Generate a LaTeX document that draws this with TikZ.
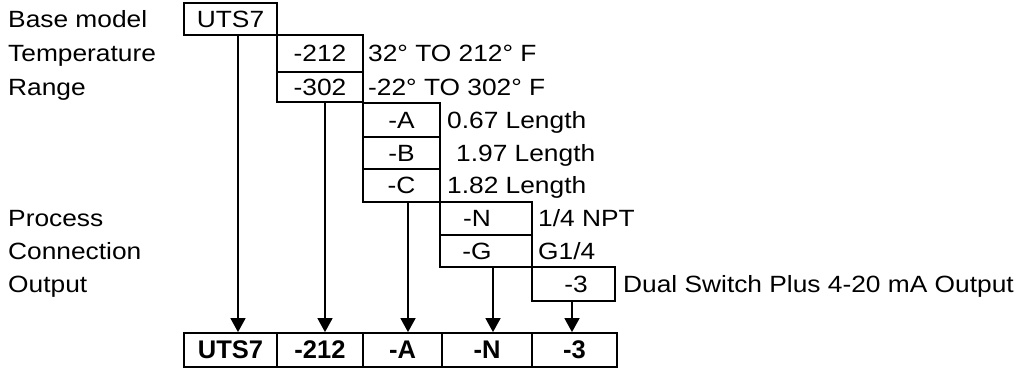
\documentclass[tikz,border=0pt]{standalone}
\usepackage{fontspec}
\setmainfont{Liberation Sans}[FakeStretch=1.12]
\newfontfamily\cellfont{Liberation Sans}
\usetikzlibrary{arrows.meta}
\begin{document}
\begin{tikzpicture}[x=1pt,y=-1pt,
  every node/.style={font=\fontsize{23.5pt}{28pt}\selectfont, inner sep=0pt},
  codebox/.style={draw, line width=1.8pt, minimum width=#1},
  lbl/.style={anchor=base west},
  arr/.style={line width=1.6pt, -{Triangle[width=15pt,length=14pt]}},
  cell/.style={draw, line width=1.8pt, minimum height=34pt, minimum width=#1, font=\cellfont\fontsize{25.5pt}{30pt}\selectfont\bfseries}
]
\useasboundingbox (0,0) rectangle (1019,368);
% left labels
\node[lbl] (lb1) at (8,27.3) {Base model};
\node[lbl] (lb2) at (8,61.8) {Temperature};
\node[lbl] (lb3) at (8,95.3) {Range};
\node[lbl] (lb4) at (8,226.8) {Process};
\node[lbl] (lb5) at (8,259.3) {Connection};
\node[lbl] (lb6) at (8,292.3) {Output};
% code boxes
\node[codebox=93pt, minimum height=32pt] (uts) at (230.5,19) {UTS7};
\node[codebox=86pt, minimum height=37pt] (t212) at (320,53.5) {-212};
\node[codebox=86pt, minimum height=30pt] (t302) at (320,87) {-302};
\node[codebox=77pt, minimum height=34pt] (bA) at (401.5,120) {-A};
\node[codebox=77pt, minimum height=32pt] (bB) at (401.5,153) {-B};
\node[codebox=77pt, minimum height=33pt] (bC) at (401.5,185.5) {-C};
\node[codebox=92pt, minimum height=33pt] (bN) at (486,218.5) {\hspace*{-18pt}-N};
\node[codebox=92pt, minimum height=32pt] (bG) at (486,251) {\hspace*{-18pt}-G};
\node[codebox=83pt, minimum height=34pt] (b3) at (573.5,284) {\hspace*{5pt}-3};
% descriptions
\node[lbl] (d1) at (368,61.8) {32° TO 212° F};
\node[lbl] (d2) at (368,95.3) {-22° TO 302° F};
\node[lbl] (d3) at (447,128.3) {0.67 Length};
\node[lbl] (d4) at (456,161.3) {1.97 Length};
\node[lbl] (d5) at (447,193.8) {1.82 Length};
\node[lbl] (d6) at (538,226.8) {1/4 NPT};
\node[lbl] (d7) at (538,259.3) {G1/4};
\node[lbl] (d8) at (623,292.3) {Dual Switch Plus 4-20 mA Output};
% bottom row
\node[cell=93pt] (c1) at (230.5,350) {UTS7};
\node[cell=86pt] (c2) at (320,350) {-212};
\node[cell=79pt] (c3) at (402.5,350) {-A};
\node[cell=90pt] (c4) at (487,350) {-N};
\node[cell=85pt] (c5) at (574.5,350) {-3};
% arrows
\draw[arr] ([xshift=7.5pt]uts.south) -- ([xshift=7.5pt]uts.south |- c1.north);
\draw[arr] ([xshift=5pt]t302.south) -- ([xshift=5pt]t302.south |- c2.north);
\draw[arr] ([xshift=6.5pt]bC.south) -- ([xshift=6.5pt]bC.south |- c3.north);
\draw[arr] ([xshift=7pt]bN.south |- bG.south) -- ([xshift=7pt]bN.south |- c4.north);
\draw[arr] ([xshift=-1.5pt]b3.south) -- ([xshift=-1.5pt]b3.south |- c5.north);
\end{tikzpicture}
\end{document}
